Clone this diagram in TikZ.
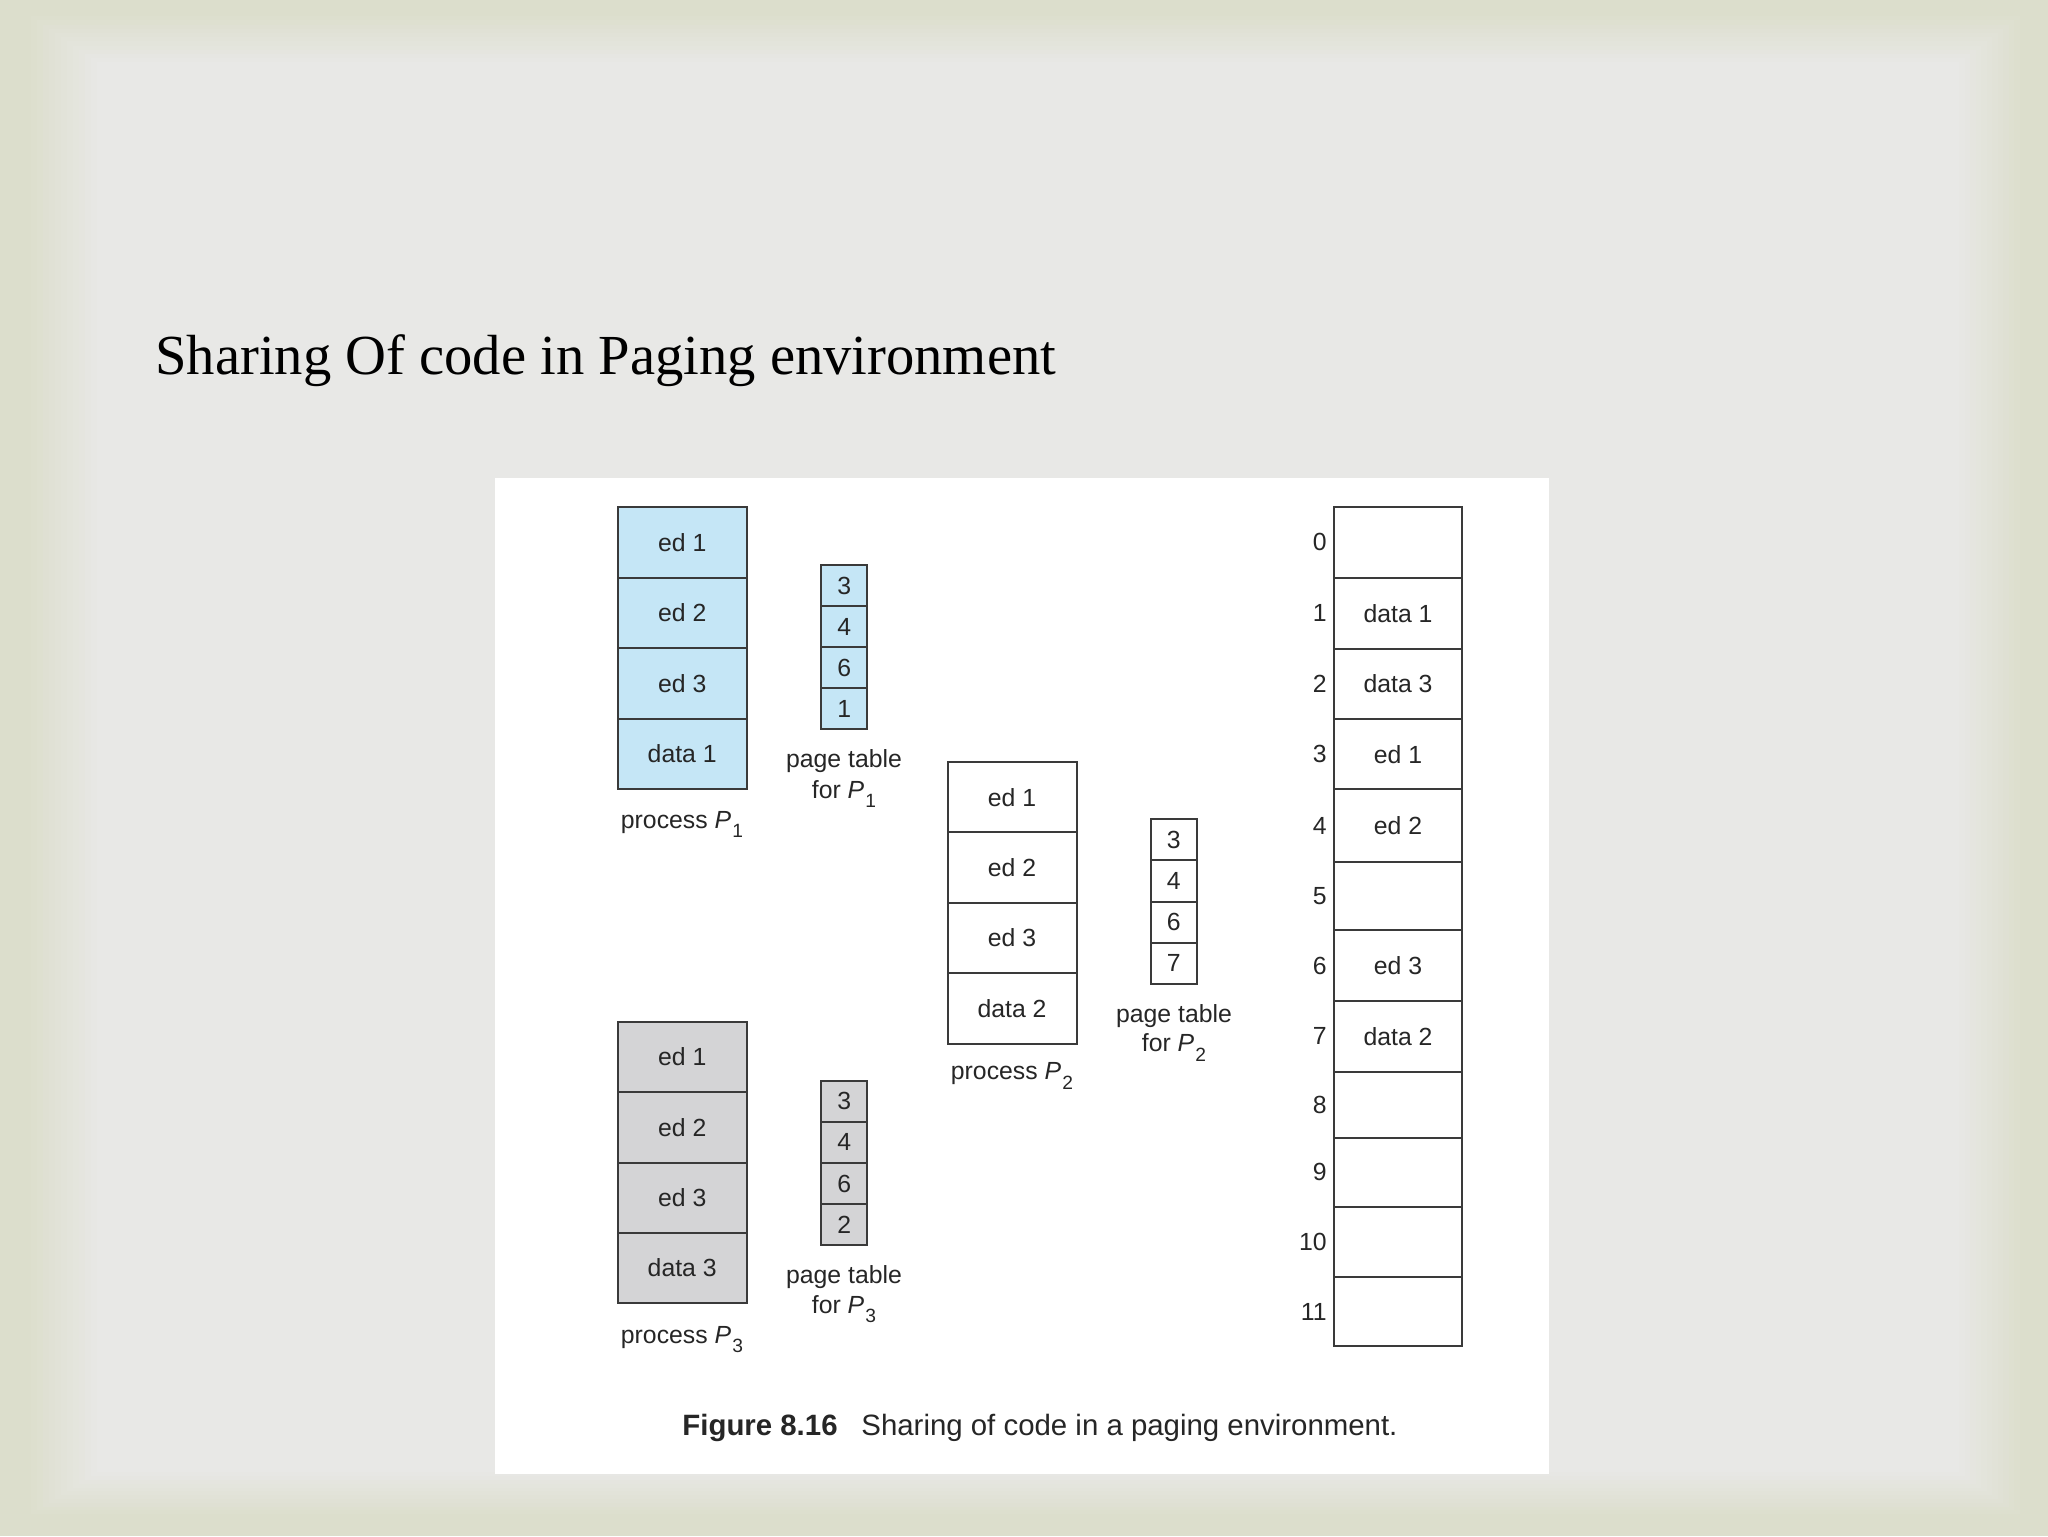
\documentclass[tikz,border=0pt]{standalone}
\usepackage{fontspec}
\setmainfont{Liberation Serif}
\setsansfont{Liberation Sans}
\newfontfamily\figfont{Liberation Sans}
\definecolor{bgOut}{RGB}{220,222,204}
\definecolor{bgIn}{RGB}{232,232,230}
\definecolor{linec}{RGB}{58,58,58}
\definecolor{txt}{RGB}{38,38,38}
\definecolor{pblue}{RGB}{197,230,246}
\definecolor{pgray}{RGB}{212,212,214}
\newcommand\Psub[1]{{\itshape P}\kern0.6pt\raisebox{-0.75ex}{\fontsize{9.6}{10}\selectfont #1}}
\tikzset{
  figtext/.style={font=\figfont\fontsize{12.4}{14}\selectfont, text=txt, inner sep=0pt},
  cellbox/.style={figtext, draw=linec, line width=1pt, minimum width=64.5pt, minimum height=35.2pt},
  ptcell/.style={figtext, draw=linec, line width=1pt, minimum width=23pt, minimum height=20.55pt},
  memcell/.style={figtext, draw=linec, line width=1pt, minimum width=64pt, fill=white},
  lbl/.style={figtext, anchor=base}
}
\begin{document}
\begin{tikzpicture}[x=0.5pt,y=-0.5pt]
\useasboundingbox (0,0) rectangle (2048,1536);
% slide background
\fill[bgOut] (0,0) rectangle (2048,1536);
\foreach \k in {0,...,12}{
  \pgfmathsetmacro\pc{100*\k/12}
  \fill[bgIn!\pc!bgOut] ({25+6*\k},{12+4.2*\k}) rectangle ({2025-5.5*\k},{1518-3.8*\k});
}
% title
\node[anchor=base west, inner sep=0pt, font=\fontsize{28.3}{30}\selectfont, text=black] (title) at (155,374) {Sharing Of code in Paging environment};
% figure panel
\fill[white] (495,478) rectangle (1549,1474);

% process P1
\foreach \i/\lab in {0/ed 1,1/ed 2,2/ed 3,3/data 1}{
  \pgfmathsetmacro\cy{542.5+70.4*\i}
  \node[cellbox, fill=pblue] (pa\i) at (682.2,\cy) {\lab};
}
\node[lbl] (pal) at (682,828) {process \Psub{1}};
% page table P1
\foreach \i/\lab in {0/3,1/4,2/6,3/1}{
  \pgfmathsetmacro\cy{585.5+41.1*\i}
  \node[ptcell, fill=pblue] (ta\i) at (844.2,\cy) {\lab};
}
\node[lbl] (tal1) at (844,767.7) {page table};
\node[lbl] (tal2) at (844,798) {for \Psub{1}};

% process P2
\foreach \i/\lab in {0/ed 1,1/ed 2,2/ed 3,3/data 2}{
  \pgfmathsetmacro\cy{797.2+70.4*\i}
  \node[cellbox, fill=white] (pb\i) at (1012,\cy) {\lab};
}
\node[lbl] (pbl) at (1012,1079.3) {process \Psub{2}};
% page table P2
\foreach \i/\lab in {0/3,1/4,2/6,3/7}{
  \pgfmathsetmacro\cy{839.85+41.1*\i}
  \node[ptcell, fill=white] (tb\i) at (1173.7,\cy) {\lab};
}
\node[lbl] (tbl1) at (1174,1022.7) {page table};
\node[lbl] (tbl2) at (1174,1051.7) {for \Psub{2}};

% process P3
\foreach \i/\lab in {0/ed 1,1/ed 2,2/ed 3,3/data 3}{
  \pgfmathsetmacro\cy{1056.9+70.4*\i}
  \node[cellbox, fill=pgray] (pc\i) at (682.2,\cy) {\lab};
}
\node[lbl] (pcl) at (682,1343) {process \Psub{3}};
% page table P3
\foreach \i/\lab in {0/3,1/4,2/6,3/2}{
  \pgfmathsetmacro\cy{1101.25+41.1*\i}
  \node[ptcell, fill=pgray] (tc\i) at (844.2,\cy) {\lab};
}
\node[lbl] (tcl1) at (844,1283) {page table};
\node[lbl] (tcl2) at (844,1313) {for \Psub{3}};

% physical memory
\foreach \i/\t/\b/\lab in {0/506.7/577.7/,1/577.7/648.7/data 1,2/648.7/719.3/data 3,3/719.3/789.3/ed 1,4/789.3/862/ed 2,5/862/930/,6/930/1001/ed 3,7/1001/1071.7/data 2,8/1071.7/1137.7/,9/1137.7/1206.7/,10/1206.7/1277.3/,11/1277.3/1345.7/}{
  \pgfmathsetmacro\hh{(\b-\t)*0.5}
  \pgfmathsetmacro\cy{(\t+\b)/2}
  \node[memcell, minimum height=\hh pt] (m\i) at (1398,\cy) {\lab};
  \node[figtext, anchor=east] (n\i) at (1327,\cy) {\i};
}

% caption
\node[anchor=base west, inner sep=0pt, text=txt, font=\figfont\bfseries\fontsize{14.7}{16}\selectfont] (capa) at (682,1435) {Figure 8.16};
\node[anchor=base west, inner sep=0pt, text=txt, font=\figfont\fontsize{14.7}{16}\selectfont] (capb) at (861,1435) {Sharing of code in a paging environment.};
\end{tikzpicture}
\end{document}
